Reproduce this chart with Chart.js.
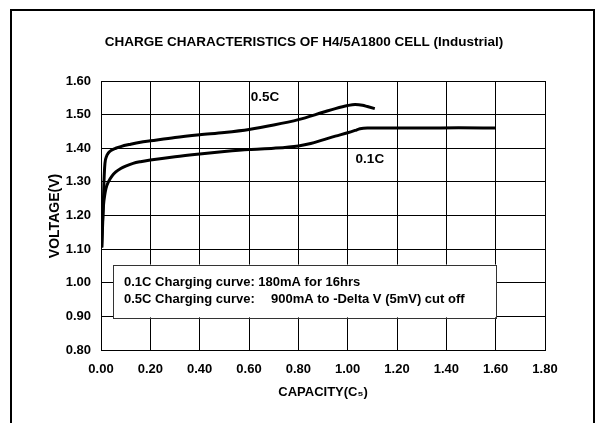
<!DOCTYPE html>
<html>
<head>
<meta charset="utf-8">
<script src="https://cdn.jsdelivr.net/npm/chart.js@4/dist/chart.umd.min.js"></script>
<style>
  html, body { margin: 0; padding: 0; background: #fff; overflow: hidden; }
  #wrap { position: relative; width: 598px; height: 423px; }
  #frame { position: absolute; left: 10px; top: 9px; width: 581px; height: 430px; border: 2px solid #000; pointer-events: none; }
</style>
</head>
<body>
<div id="wrap">
  <canvas id="chart" width="598" height="423"></canvas>
  <div id="frame"></div>
</div>
<script>
// データ
const capacity05 = [0.003, 0.008, 0.012, 0.016, 0.022, 0.03, 0.04, 0.06, 0.08, 0.12, 0.16, 0.20, 0.30, 0.40, 0.50, 0.60, 0.70, 0.80, 0.90, 0.95, 1.00, 1.03, 1.06, 1.08, 1.11];
const voltage05 = [1.105, 1.20, 1.30, 1.355, 1.375, 1.386, 1.393, 1.400, 1.405, 1.412, 1.418, 1.422, 1.432, 1.440, 1.447, 1.456, 1.469, 1.485, 1.507, 1.518, 1.527, 1.530, 1.528, 1.524, 1.518];

const capacity01 = [0.003, 0.006, 0.01, 0.015, 0.02, 0.03, 0.045, 0.06, 0.08, 0.10, 0.13, 0.16, 0.20, 0.30, 0.40, 0.50, 0.60, 0.70, 0.80, 0.85, 0.90, 0.95, 1.00, 1.03, 1.05, 1.08, 1.12, 1.30, 1.45, 1.60];
const voltage01 = [1.105, 1.18, 1.23, 1.26, 1.28, 1.30, 1.318, 1.330, 1.340, 1.347, 1.355, 1.360, 1.365, 1.375, 1.383, 1.390, 1.396, 1.400, 1.407, 1.414, 1.425, 1.436, 1.446, 1.453, 1.458, 1.460, 1.460, 1.460, 1.461, 1.460];

const xTicks = [0.00, 0.20, 0.40, 0.60, 0.80, 1.00, 1.20, 1.40, 1.60, 1.80];
const yTicks = [0.80, 0.90, 1.00, 1.10, 1.20, 1.30, 1.40, 1.50, 1.60];

const titleText = "CHARGE CHARACTERISTICS OF H4/5A1800 CELL (Industrial)";
const legendLine1 = "0.1C Charging curve: 180mA for 16hrs";
const legendLine2a = "0.5C Charging curve:";
const legendLine2b = "900mA to -Delta V (5mV) cut off";

const FONT = '"Liberation Sans", Arial, sans-serif';

function toPoints(xs, ys) {
  return xs.map((x, i) => ({ x: x, y: ys[i] }));
}

// 文字・凡例ボックスを描く
const textPlugin = {
  id: 'texts',
  afterDraw(chart) {
    const ctx = chart.ctx;
    const xs = chart.scales.x;
    const ys = chart.scales.y;
    const area = chart.chartArea;
    ctx.save();
    ctx.fillStyle = '#000';
    ctx.textBaseline = 'middle';

    // タイトル
    ctx.font = 'bold 13.5px ' + FONT;
    ctx.textAlign = 'center';
    ctx.fillText(titleText, 304, 42);

    // 軸タイトル
    ctx.font = 'bold 13px ' + FONT;
    ctx.fillText("CAPACITY(C\u2085)", (area.left + area.right) / 2, 392);
    ctx.save();
    ctx.translate(55, 216);
    ctx.rotate(-Math.PI / 2);
    ctx.font = 'bold 14px ' + FONT;
    ctx.fillText("VOLTAGE(V)", 0, 0);
    ctx.restore();

    // 曲線ラベル
    ctx.font = 'bold 13.5px ' + FONT;
    ctx.fillText("0.5C", xs.getPixelForValue(0.665), ys.getPixelForValue(1.552));
    ctx.fillText("0.1C", xs.getPixelForValue(1.09), ys.getPixelForValue(1.366));

    // 凡例ボックス
    const bx1 = xs.getPixelForValue(0.049), bx2 = xs.getPixelForValue(1.603);
    const by1 = ys.getPixelForValue(1.054), by2 = ys.getPixelForValue(0.897);
    ctx.fillStyle = '#fff';
    ctx.fillRect(bx1, by1, bx2 - bx1, by2 - by1);
    ctx.strokeStyle = '#333';
    ctx.lineWidth = 1;
    ctx.strokeRect(Math.round(bx1) + 0.5, Math.round(by1) + 0.5, Math.round(bx2 - bx1), Math.round(by2 - by1));
    ctx.fillStyle = '#000';
    ctx.textAlign = 'left';
    ctx.font = 'bold 13px ' + FONT;
    ctx.fillText(legendLine1, 124, 282);
    ctx.fillText(legendLine2a, 124, 299);
    ctx.fillText(legendLine2b, 271, 299);
    ctx.restore();
  }
};

new Chart(document.getElementById('chart'), {
  type: 'scatter',
  data: {
    datasets: [
      {
        label: '0.5C',
        data: toPoints(capacity05, voltage05),
        showLine: true,
        borderColor: '#000',
        borderWidth: 3,
        pointRadius: 0,
        cubicInterpolationMode: 'monotone',
        fill: false
      },
      {
        label: '0.1C',
        data: toPoints(capacity01, voltage01),
        showLine: true,
        borderColor: '#000',
        borderWidth: 3,
        pointRadius: 0,
        cubicInterpolationMode: 'monotone',
        fill: false
      }
    ]
  },
  options: {
    responsive: false,
    animation: false,
    layout: { padding: { left: 0, top: 81, right: 53, bottom: 0 } },
    plugins: {
      legend: { display: false },
      title: { display: false },
      tooltip: { enabled: false }
    },
    scales: {
      x: {
        type: 'linear',
        min: xTicks[0],
        max: xTicks[xTicks.length - 1],
        afterBuildTicks: (s) => { s.ticks = xTicks.map(v => ({ value: v })); },
        afterFit: (s) => { s.height = 73; },
        grid: { color: '#000', lineWidth: 1, drawTicks: false },
        border: { color: '#000', width: 1 },
        ticks: {
          padding: 12,
          color: '#000',
          font: { family: FONT, size: 13, weight: 'bold' },
          callback: (v) => Number(v).toFixed(2)
        }
      },
      y: {
        type: 'linear',
        min: yTicks[0],
        max: yTicks[yTicks.length - 1],
        afterBuildTicks: (s) => { s.ticks = yTicks.map(v => ({ value: v })); },
        afterFit: (s) => { s.width = 101; },
        grid: { color: '#000', lineWidth: 1, drawTicks: false },
        border: { color: '#000', width: 1 },
        ticks: {
          padding: 10,
          color: '#000',
          font: { family: FONT, size: 13, weight: 'bold' },
          callback: (v) => Number(v).toFixed(2)
        }
      }
    }
  },
  plugins: [textPlugin]
});
</script>
</body>
</html>
